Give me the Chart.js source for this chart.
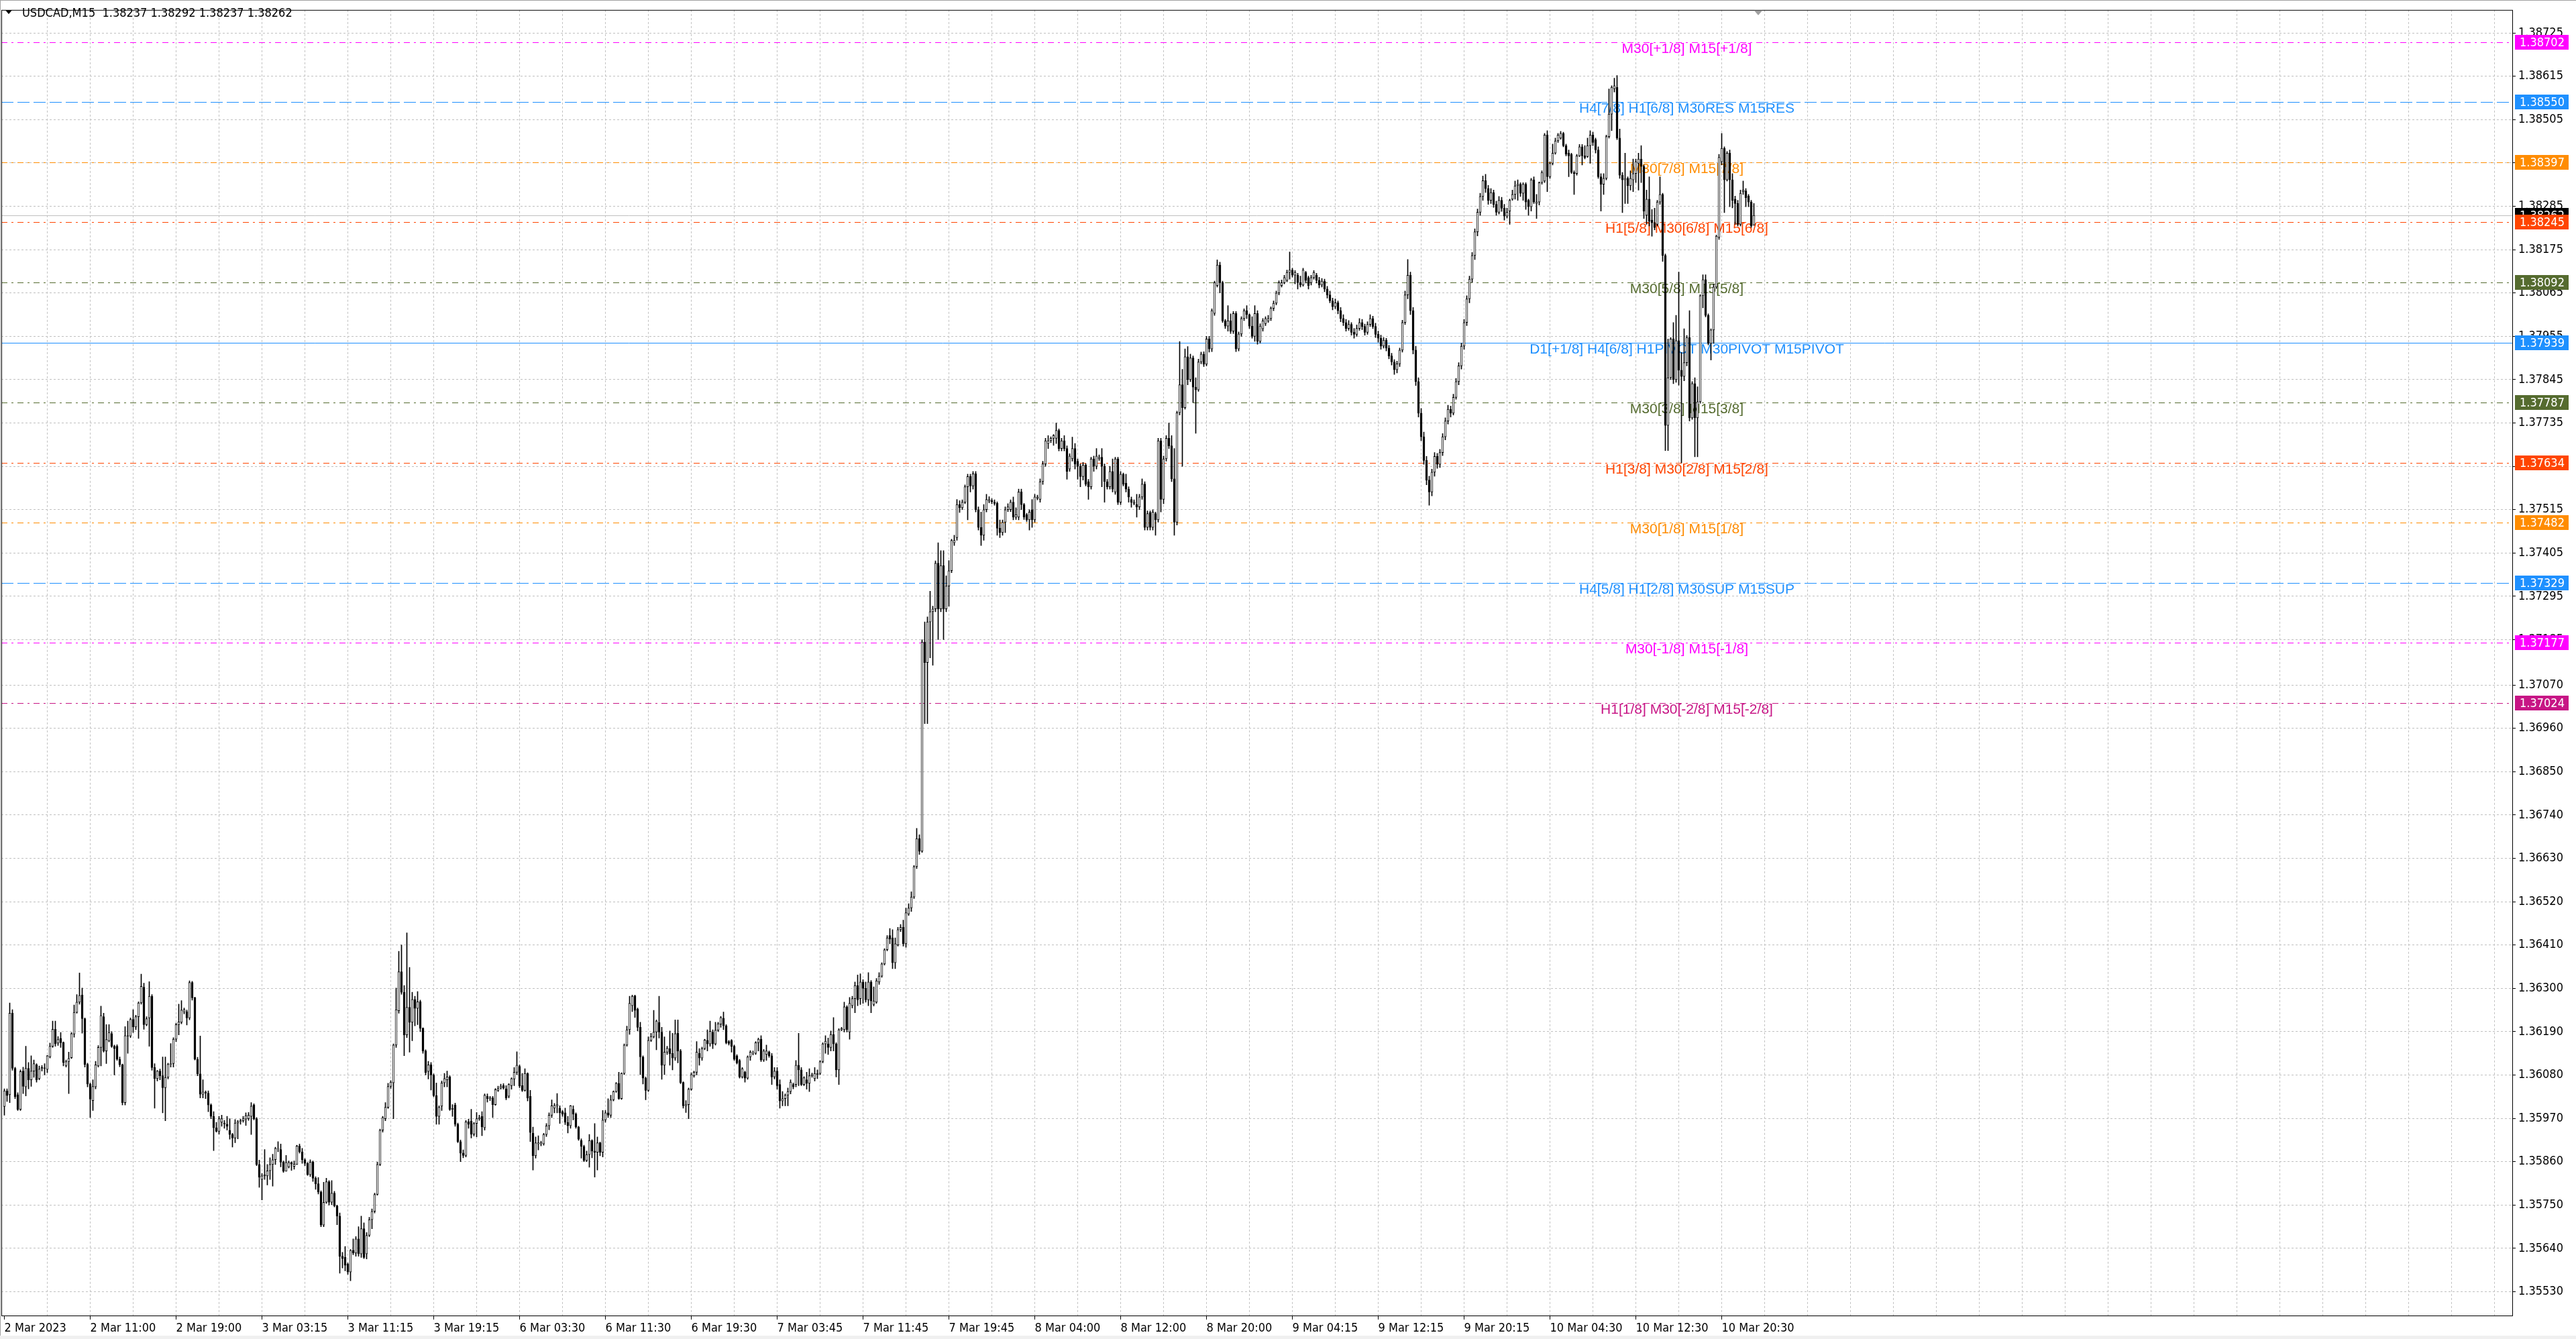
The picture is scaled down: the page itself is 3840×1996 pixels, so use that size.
<!DOCTYPE html>
<html>
<head>
<meta charset="utf-8">
<title>USDCAD,M15</title>
<script src="https://cdn.jsdelivr.net/npm/chart.js@4.4.1/dist/chart.umd.min.js"></script>
<style>
  html, body { margin: 0; padding: 0; background: #ffffff; overflow: hidden; }
  canvas { display: block; }
</style>
</head>
<body>
<canvas id="chart" width="3840" height="1996"></canvas>
<script>
// USDCAD M15 candles, prices kept in points above 1.35000 (1 point = 0.00001)
var symbolName = "USDCAD";
var timeframe = "M15";

var barOpen = [
  1000,1040,1030,1237,1097,1030,993,1090,1050,1097,
  1068,1090,1106,1071,1096,1098,1094,1126,1153,1196,
  1161,1173,1163,1104,1114,1124,1184,1239,1265,1283,
  1223,1107,1057,1015,1050,1103,1150,1228,1141,1167,
  1185,1153,1153,1120,1106,1010,1180,1179,1221,1202,
  1228,1263,1303,1208,1225,1280,1099,1071,1090,1078,
  1048,1074,1107,1109,1171,1208,1214,1240,1241,1225,
  1315,1276,1120,1083,1031,1037,1034,1004,975,946,
  937,960,958,955,940,929,920,958,962,964,
  968,969,975,1004,969,853,815,824,824,837,
  853,865,892,891,859,836,847,858,848,853,
  900,885,865,856,827,859,818,804,783,699,
  757,809,757,780,748,722,620,617,600,580,
  635,628,664,626,690,626,673,713,734,777,
  853,940,969,998,1051,1060,1156,1243,1342,1290,
  1182,1252,1214,1272,1249,1266,1199,1141,1089,1106,
  1080,1028,975,1001,1060,1068,1075,993,1004,955,
  911,882,876,961,963,930,957,969,975,946,
  1026,1020,1022,1005,1041,1047,1053,1045,1026,1053,
  1070,1087,1102,1053,1041,1084,1026,932,875,905,
  905,905,929,951,978,996,1002,996,987,984,
  960,951,993,981,948,914,899,863,878,914,
  887,884,908,884,966,984,978,1017,1038,1059,
  1020,1084,1156,1195,1256,1281,1247,1201,1126,1072,
  1041,1168,1177,1189,1213,1189,1105,1138,1147,1135,
  1123,1186,1141,1061,1002,1005,1044,1078,1087,1135,
  1123,1147,1168,1159,1189,1159,1194,1209,1224,1205,
  1165,1168,1153,1129,1117,1075,1087,1072,1126,1135,
  1135,1162,1171,1118,1132,1138,1129,1075,1090,1056,
  1014,1020,1029,1038,1056,1056,1105,1093,1056,1068,
  1059,1078,1071,1081,1084,1114,1159,1159,1150,1183,
  1159,1093,1195,1195,1253,1189,1256,1274,1307,1274,
  1316,1300,1271,1316,1259,1265,1316,1331,1362,1398,
  1434,1428,1365,1410,1449,1455,1413,1489,1504,1532,
  1609,1680,1648,2179,2127,2230,2256,2263,2379,2263,
  2373,2263,2321,2360,2431,2444,2528,2520,2534,2573,
  2599,2575,2606,2515,2470,2450,2515,2537,2538,2534,
  2531,2468,2457,2483,2515,2515,2534,2496,2496,2560,
  2528,2502,2489,2515,2489,2544,2541,2586,2631,2683,
  2690,2696,2696,2716,2670,2690,2670,2618,2644,2670,
  2638,2625,2599,2628,2586,2573,2644,2625,2644,2648,
  2625,2586,2573,2612,2560,2644,2534,2605,2582,2567,
  2541,2531,2528,2522,2547,2580,2470,2508,2470,2505,
  2489,2690,2541,2644,2696,2677,2593,2483,2761,2832,
  2774,2903,2845,2900,2826,2819,2890,2910,2884,2948,
  2923,3013,3084,3136,3091,2994,2981,2994,2968,3013,
  2923,2961,3000,3020,3010,2981,2955,3013,2942,2974,
  2987,2994,3000,3026,3039,3065,3084,3091,3097,3117,
  3123,3110,3110,3091,3085,3117,3104,3091,3104,3110,
  3097,3085,3095,3075,3060,3045,3030,3040,3020,3000,
  2990,2975,2985,2965,2960,2975,2990,2980,2965,2985,
  3000,2980,2960,2950,2930,2945,2925,2905,2890,2870,
  2885,2920,2990,3060,3110,3020,2920,2840,2760,2700,
  2640,2590,2560,2610,2650,2630,2660,2700,2740,2770,
  2760,2800,2840,2880,2930,2990,3050,3100,3160,3220,
  3270,3310,3350,3330,3300,3320,3290,3270,3300,3280,
  3260,3273,3303,3315,3337,3341,3318,3341,3300,3284,
  3352,3292,3296,3345,3349,3466,3360,3394,3420,3451,
  3458,3470,3439,3420,3417,3371,3368,3413,3436,3413,
  3411,3439,3466,3454,3428,3360,3341,3356,3462,3519,
  3583,3587,3458,3364,3352,3356,3337,3352,3368,3394,
  3405,3386,3262,3303,3250,3243,3239,3296,3315,3160,
  2729,2850,2948,2845,2944,2869,2853,2888,2952,2748,
  2835,2748,2789,3058,3099,3008,2937,2971,3080,3206,
  3398,3432,3352,3420,3352,3303,3292,3239,3322,3324,
  3311,3296,3237
];

var barHigh = [
  1045,1045,1263,1246,1100,1035,1093,1100,1153,1112,
  1129,1118,1109,1103,1104,1109,1130,1161,1217,1217,
  1178,1188,1164,1118,1138,1188,1258,1284,1339,1301,
  1225,1110,1060,1068,1115,1155,1255,1237,1208,1208,
  1190,1156,1157,1126,1108,1203,1217,1225,1246,1232,
  1266,1336,1313,1228,1317,1284,1109,1092,1095,1126,
  1126,1110,1160,1175,1212,1260,1269,1250,1245,1319,
  1318,1278,1125,1179,1068,1040,1040,1007,987,960,
  975,978,965,975,969,932,967,965,968,975,
  984,985,1010,1007,972,864,830,891,853,870,
  879,897,911,905,862,876,862,860,862,902,
  905,894,868,858,865,862,822,820,786,808,
  818,812,812,785,750,730,630,645,603,637,
  664,670,695,722,705,680,719,740,780,859,
  943,975,1010,1059,1066,1159,1301,1394,1410,1307,
  1441,1353,1290,1280,1292,1270,1200,1144,1115,1112,
  1083,1060,1002,1065,1084,1090,1078,1005,1009,958,
  915,890,965,968,993,960,985,978,987,1032,
  1032,1026,1026,1046,1052,1057,1058,1053,1058,1073,
  1099,1139,1106,1084,1096,1086,1041,948,923,926,
  912,932,957,984,1017,1008,1033,1002,990,996,
  975,1003,1002,984,950,918,902,887,929,916,
  957,923,910,990,990,1020,1029,1040,1061,1087,
  1086,1159,1204,1280,1283,1283,1250,1214,1129,1075,
  1177,1186,1244,1220,1280,1201,1177,1153,1192,1186,
  1220,1220,1145,1063,1015,1047,1086,1090,1165,1147,
  1151,1171,1195,1217,1195,1214,1214,1229,1240,1208,
  1168,1170,1156,1132,1120,1099,1090,1129,1142,1141,
  1165,1174,1180,1145,1156,1141,1135,1099,1099,1068,
  1038,1032,1047,1068,1060,1117,1186,1099,1076,1087,
  1096,1085,1099,1093,1117,1162,1180,1174,1192,1226,
  1162,1198,1201,1265,1256,1277,1280,1316,1334,1337,
  1322,1316,1340,1320,1304,1325,1340,1365,1401,1434,
  1452,1449,1428,1455,1462,1473,1504,1515,1545,1612,
  1706,1690,2185,2230,2243,2308,2270,2385,2431,2411,
  2411,2347,2386,2440,2450,2541,2538,2540,2578,2605,
  2605,2612,2612,2522,2509,2528,2554,2548,2543,2540,
  2535,2489,2489,2522,2530,2540,2547,2520,2567,2567,
  2531,2506,2515,2541,2554,2552,2593,2638,2696,2703,
  2700,2706,2735,2720,2696,2703,2677,2657,2699,2683,
  2644,2631,2635,2632,2592,2648,2651,2670,2654,2670,
  2631,2592,2625,2644,2648,2648,2612,2608,2605,2573,
  2547,2540,2554,2554,2593,2586,2512,2512,2515,2509,
  2696,2696,2651,2703,2735,2703,2670,2765,2942,2871,
  2923,2929,2910,2905,2850,2897,2915,2916,2955,2955,
  3025,3095,3149,3143,3095,2998,3033,3012,3018,3018,
  2966,3005,3025,3033,3012,3005,3033,3020,2987,3000,
  3005,3008,3030,3045,3070,3096,3098,3110,3123,3169,
  3128,3122,3115,3108,3128,3120,3108,3110,3122,3115,
  3105,3102,3100,3082,3070,3052,3050,3045,3028,3010,
  2998,2995,2990,2975,2984,3000,2998,2986,2992,3010,
  3006,2988,2968,2958,2952,2950,2932,2912,2896,2892,
  2925,2996,3070,3150,3118,3028,2930,2850,2772,2712,
  2650,2600,2618,2660,2658,2668,2708,2748,2780,2778,
  2808,2848,2888,2938,2998,3058,3108,3168,3228,3278,
  3318,3362,3366,3338,3330,3326,3298,3310,3308,3290,
  3280,3303,3326,3349,3352,3345,3345,3345,3303,3356,
  3360,3315,3347,3375,3470,3477,3398,3443,3458,3470,
  3475,3473,3443,3428,3420,3375,3417,3442,3442,3439,
  3458,3477,3473,3458,3436,3368,3368,3466,3583,3591,
  3610,3617,3481,3371,3420,3360,3375,3405,3405,3420,
  3439,3390,3326,3360,3277,3280,3300,3360,3318,3164,
  2948,2952,2990,3008,3118,2914,2974,2957,3020,2840,
  2850,2827,3061,3111,3111,3012,2974,3088,3212,3417,
  3470,3436,3424,3428,3368,3311,3300,3326,3349,3330,
  3315,3300,3292
];

var barLow = [
  978,1013,1010,1092,1020,990,990,1033,1027,1045,
  1051,1074,1062,1068,1090,1080,1086,1123,1150,1153,
  1155,1150,1103,1100,1033,1122,1176,1237,1260,1186,
  1100,1050,972,990,1045,1100,1103,1138,1109,1164,
  1150,1080,1117,1101,1004,1004,1135,1175,1188,1195,
  1173,1260,1196,1205,1153,1092,996,1065,1068,984,
  964,1070,1100,1100,1165,1182,1210,1235,1207,1220,
  1270,1118,1078,1022,1022,1020,987,969,888,935,
  930,950,945,940,917,897,908,918,955,960,
  952,965,929,966,850,795,763,815,801,815,
  798,853,885,847,833,836,844,838,841,853,
  882,856,850,825,822,810,790,778,695,695,
  754,750,751,745,700,577,590,583,574,558,
  624,620,620,617,614,613,670,690,730,775,
  850,935,964,995,1046,969,1150,1237,1285,1129,
  1175,1138,1167,1205,1208,1190,1135,1080,1070,1042,
  1025,955,955,990,1050,1050,990,975,950,908,
  860,870,872,945,920,925,923,965,926,940,
  1011,1015,972,1003,1038,1044,1044,1017,1022,1044,
  1053,1081,1048,1038,1039,1014,911,839,869,890,
  900,902,924,941,972,984,984,957,975,954,
  933,945,966,945,914,869,860,860,846,870,
  821,839,875,872,960,972,972,1014,1036,1018,
  1018,1081,1153,1183,1241,1226,1192,1081,1057,1017,
  1038,1165,1174,1144,1174,1069,1081,1132,1105,1093,
  1117,1111,1058,996,985,969,1041,1074,1080,1105,
  1117,1144,1141,1153,1147,1156,1190,1201,1195,1159,
  1156,1138,1117,1108,1072,1072,1062,1069,1117,1131,
  1132,1141,1114,1114,1117,1125,1056,1070,1044,996,
  1002,1002,1002,1032,1045,1050,1053,1053,1053,1044,
  1038,1074,1065,1071,1081,1111,1135,1132,1141,1141,
  1075,1056,1192,1189,1189,1171,1250,1238,1256,1259,
  1262,1265,1256,1238,1255,1262,1310,1328,1359,1395,
  1413,1350,1350,1407,1444,1407,1404,1485,1495,1528,
  1604,1640,1645,1972,1972,2139,2120,2256,2185,2256,
  2185,2256,2270,2355,2424,2437,2508,2515,2530,2489,
  2560,2567,2509,2463,2424,2437,2509,2532,2530,2526,
  2450,2444,2450,2457,2510,2510,2489,2490,2489,2515,
  2490,2485,2463,2470,2483,2540,2534,2579,2625,2670,
  2685,2678,2683,2664,2664,2664,2592,2612,2638,2618,
  2592,2573,2590,2575,2541,2567,2612,2618,2640,2573,
  2534,2567,2567,2560,2554,2528,2528,2575,2560,2534,
  2521,2527,2496,2515,2541,2463,2463,2463,2463,2450,
  2483,2509,2530,2638,2670,2586,2450,2476,2755,2625,
  2770,2832,2840,2787,2709,2815,2885,2878,2880,2915,
  2916,3008,3080,3065,2990,2975,2968,2962,2962,2916,
  2918,2955,2995,3000,2975,2950,2942,2935,2938,2968,
  2982,2990,2995,3020,3035,3060,3080,3088,3093,3100,
  3105,3088,3075,3080,3082,3090,3075,3085,3100,3090,
  3078,3080,3068,3052,3040,3022,3025,3012,2992,2982,
  2968,2970,2958,2950,2955,2970,2972,2958,2960,2980,
  2975,2952,2940,2922,2925,2918,2898,2882,2858,2862,
  2878,2915,2985,3050,3010,2910,2830,2750,2690,2630,
  2578,2526,2550,2600,2620,2622,2652,2692,2732,2750,
  2755,2795,2832,2872,2922,2982,3040,3092,3150,3210,
  3262,3300,3320,3290,3292,3282,3262,3265,3272,3250,
  3255,3239,3300,3303,3300,3310,3300,3277,3262,3273,
  3292,3254,3288,3341,3345,3322,3356,3390,3417,3447,
  3455,3436,3413,3360,3368,3315,3364,3411,3390,3405,
  3409,3394,3439,3420,3356,3273,3315,3352,3458,3477,
  3575,3454,3356,3269,3292,3292,3326,3322,3345,3326,
  3345,3254,3239,3235,3209,3225,3235,3290,3145,2665,
  2665,2845,2835,2838,2831,2634,2842,2880,2740,2744,
  2649,2649,2785,3027,3004,2933,2895,2937,3076,3201,
  3390,3269,3349,3284,3281,3239,3235,3235,3315,3284,
  3284,3231,3237
];

var barClose = [
  1040,1028,1237,1097,1025,993,1089,1051,1097,1068,
  1090,1109,1068,1095,1099,1097,1129,1153,1196,1159,
  1170,1162,1112,1114,1122,1185,1239,1265,1282,1223,
  1107,1057,1019,1051,1106,1150,1231,1141,1170,1188,
  1153,1147,1120,1106,1010,1180,1179,1221,1202,1228,
  1263,1305,1208,1223,1280,1099,1071,1090,1078,1048,
  1074,1107,1109,1171,1208,1215,1245,1246,1225,1315,
  1276,1120,1083,1031,1037,1034,1004,975,946,937,
  969,969,956,950,929,920,958,962,964,969,
  977,978,1001,969,853,821,824,827,837,853,
  865,894,894,859,836,858,858,854,854,900,
  885,865,856,827,859,818,804,783,699,757,
  809,757,780,748,722,620,614,597,580,635,
  628,664,626,690,617,673,713,734,777,853,
  940,972,998,1051,1062,1156,1246,1342,1290,1182,
  1252,1214,1272,1249,1266,1199,1141,1086,1106,1080,
  1028,975,998,1060,1071,1075,993,995,955,911,
  882,876,961,955,930,957,969,972,948,1029,
  1020,1022,1005,1043,1046,1052,1047,1022,1056,1071,
  1087,1105,1052,1041,1084,1022,934,875,908,908,
  908,929,951,978,1002,1003,1005,984,981,960,
  951,1002,981,948,917,899,863,878,914,887,
  884,908,884,966,984,978,1017,1038,1059,1020,
  1084,1156,1195,1262,1280,1244,1201,1126,1072,1041,
  1168,1178,1189,1217,1189,1105,1138,1148,1134,1123,
  1185,1141,1061,1002,1005,1044,1081,1087,1138,1123,
  1147,1169,1159,1191,1159,1194,1210,1226,1205,1162,
  1160,1153,1120,1111,1075,1096,1072,1126,1138,1137,
  1162,1171,1118,1141,1141,1129,1075,1090,1053,1014,
  1020,1029,1038,1062,1050,1105,1093,1056,1073,1059,
  1078,1081,1084,1084,1114,1159,1166,1150,1183,1159,
  1093,1195,1198,1253,1195,1262,1274,1307,1271,1316,
  1300,1271,1316,1268,1268,1319,1331,1362,1398,1428,
  1425,1365,1413,1449,1455,1413,1492,1504,1532,1609,
  1680,1648,2179,2127,2230,2256,2263,2379,2263,2373,
  2263,2321,2360,2437,2437,2528,2520,2534,2573,2599,
  2575,2606,2515,2470,2450,2515,2541,2541,2535,2531,
  2468,2457,2483,2515,2522,2534,2496,2502,2560,2528,
  2496,2489,2509,2489,2547,2547,2586,2631,2690,2690,
  2696,2703,2716,2670,2690,2670,2612,2651,2670,2631,
  2625,2599,2628,2580,2573,2644,2625,2651,2648,2625,
  2586,2573,2612,2567,2644,2534,2605,2580,2567,2547,
  2534,2534,2522,2547,2580,2470,2505,2470,2509,2489,
  2690,2541,2644,2696,2677,2593,2483,2761,2832,2774,
  2903,2845,2900,2826,2819,2890,2910,2884,2948,2923,
  3020,3091,3136,3091,2994,2981,2994,2968,3013,2923,
  2961,3000,3020,3010,2981,2955,3013,2942,2981,2994,
  3000,3000,3026,3039,3065,3091,3091,3104,3117,3123,
  3110,3117,3091,3085,3123,3097,3084,3104,3117,3097,
  3085,3095,3075,3060,3045,3030,3040,3020,3000,2990,
  2975,2985,2965,2960,2975,2990,2980,2965,2985,3000,
  2980,2960,2950,2930,2945,2925,2905,2890,2870,2885,
  2920,2990,3060,3110,3020,2920,2840,2760,2700,2640,
  2590,2560,2610,2650,2630,2660,2700,2740,2770,2760,
  2800,2840,2880,2930,2990,3050,3100,3160,3220,3270,
  3310,3350,3330,3300,3320,3290,3270,3300,3280,3260,
  3270,3300,3315,3337,3341,3318,3341,3296,3284,3352,
  3296,3296,3345,3371,3466,3360,3394,3420,3451,3466,
  3470,3439,3417,3413,3371,3368,3413,3436,3413,3409,
  3439,3466,3447,3428,3360,3341,3356,3462,3519,3587,
  3591,3458,3364,3352,3356,3337,3356,3368,3398,3405,
  3386,3273,3303,3247,3243,3231,3296,3315,3160,2729,
  2850,2948,2845,2944,2869,2853,2888,2952,2748,2835,
  2748,2789,3058,3099,3008,2937,2971,3080,3209,3409,
  3432,3352,3420,3352,3300,3292,3239,3318,3326,3307,
  3296,3235,3262
];

// time axis labels, one every 32 bars (8 hours)
var timeLabels = [
  "2 Mar 2023", "2 Mar 11:00", "2 Mar 19:00", "3 Mar 03:15", "3 Mar 11:15",
  "3 Mar 19:15", "6 Mar 03:30", "6 Mar 11:30", "6 Mar 19:30", "7 Mar 03:45",
  "7 Mar 11:45", "7 Mar 19:45", "8 Mar 04:00", "8 Mar 12:00", "8 Mar 20:00",
  "9 Mar 04:15", "9 Mar 12:15", "9 Mar 20:15", "10 Mar 04:30", "10 Mar 12:30",
  "10 Mar 20:30"
];

// price scale labels
var priceTicks = [
  1.35530, 1.35640, 1.35750, 1.35860, 1.35970, 1.36080, 1.36190, 1.36300,
  1.36410, 1.36520, 1.36630, 1.36740, 1.36850, 1.36960, 1.37070, 1.37185,
  1.37295, 1.37405, 1.37515, 1.37625, 1.37735, 1.37845, 1.37955, 1.38065,
  1.38175, 1.38285, 1.38395, 1.38505, 1.38615, 1.38725
];

// Murrey math levels drawn by the indicator
var levelPrices = [
  1.38702, 1.38550, 1.38397, 1.38245, 1.38092, 1.37939,
  1.37787, 1.37634, 1.37482, 1.37329, 1.37177, 1.37024
];
var levelNames = [
  "M30[+1/8] M15[+1/8]",
  "H4[7/8] H1[6/8] M30RES M15RES",
  "M30[7/8] M15[7/8]",
  "H1[5/8] M30[6/8] M15[6/8]",
  "M30[5/8] M15[5/8]",
  "D1[+1/8] H4[6/8] H1PIVOT M30PIVOT M15PIVOT",
  "M30[3/8] M15[3/8]",
  "H1[3/8] M30[2/8] M15[2/8]",
  "M30[1/8] M15[1/8]",
  "H4[5/8] H1[2/8] M30SUP M15SUP",
  "M30[-1/8] M15[-1/8]",
  "H1[1/8] M30[-2/8] M15[-2/8]"
];

if (barOpen.length !== barHigh.length || barOpen.length !== barLow.length || barOpen.length !== barClose.length) {
  throw new Error("bar arrays differ: " + [barOpen.length, barHigh.length, barLow.length, barClose.length].join(","));
}

// ---- styling ----
var DASHDOT = [9, 6, 3, 6];
var DASH = [18, 6];
var levelColors = ["#FF00FF", "#1E90FF", "#FF8C00", "#FF4500", "#556B2F", "#1E90FF",
                   "#556B2F", "#FF4500", "#FF8C00", "#1E90FF", "#FF00FF", "#C71585"];
var levelDashes = [DASHDOT, DASH, DASHDOT, DASHDOT, DASHDOT, [],
                   DASHDOT, DASHDOT, DASHDOT, DASH, DASHDOT, DASHDOT];
var GRID = "#C0C0C0";
var AXIS_FONT = '"DejaVu Sans Condensed", "DejaVu Sans", sans-serif';
var LEVEL_FONT = '21px "Liberation Sans", Arial, sans-serif';
var LABEL_BAR = 627;          // bar under the centre of the level captions
var X_MIN = -1.125, X_MAX = 934.625;
var Y_MIN = 1.354696, Y_MAX = 1.387834;

function toPrice(v) { return Math.round(135000 + v) / 100000; }

var last = barClose.length - 1;
var lastPrice = toPrice(barClose[last]);
var titleText = symbolName + "," + timeframe + "  " +
  [barOpen[last], barHigh[last], barLow[last], barClose[last]].map(function (v) { return toPrice(v).toFixed(5); }).join(" ");

var wickData = barHigh.map(function (h, i) { return { x: i, y: [toPrice(barLow[i]), toPrice(h)] }; });
var bodyData = barOpen.map(function (o, i) { return { x: i, y: [toPrice(o), toPrice(barClose[i])] }; });
var bodyFill = barOpen.map(function (o, i) { return barClose[i] >= o ? "#ffffff" : "#000000"; });

var gridBars = [];
for (var b = 0; b <= 928; b += 16) gridBars.push(b);

var mtPlugin = {
  id: "mtDecor",
  beforeDatasetsDraw: function (chart) {
    var ctx = chart.ctx, a = chart.chartArea, ys = chart.scales.y, xs = chart.scales.x;
    ctx.save();
    ctx.beginPath();
    ctx.rect(a.left, a.top, a.right - a.left, a.bottom - a.top);
    ctx.clip();
    ctx.lineWidth = 1;
    // bid line
    var yb = Math.round(ys.getPixelForValue(lastPrice)) + 0.5;
    ctx.strokeStyle = GRID;
    ctx.setLineDash([]);
    ctx.beginPath(); ctx.moveTo(a.left, yb); ctx.lineTo(a.right, yb); ctx.stroke();
    levelPrices.forEach(function (p, k) {
      var y = Math.round(ys.getPixelForValue(p)) + 0.5;
      ctx.strokeStyle = levelColors[k];
      ctx.setLineDash(levelDashes[k]);
      ctx.beginPath(); ctx.moveTo(a.left, y); ctx.lineTo(a.right, y); ctx.stroke();
    });
    ctx.setLineDash([]);
    ctx.font = LEVEL_FONT;
    ctx.textAlign = "center";
    ctx.textBaseline = "top";
    var xl = xs.getPixelForValue(LABEL_BAR);
    levelPrices.forEach(function (p, k) {
      ctx.fillStyle = levelColors[k];
      ctx.fillText(levelNames[k], xl, Math.round(ys.getPixelForValue(p)));
    });
    ctx.restore();
  },
  afterDraw: function (chart) {
    var ctx = chart.ctx, a = chart.chartArea, ys = chart.scales.y, xs = chart.scales.x;
    var W = chart.width, H = chart.height;
    ctx.save();
    // window edges
    ctx.fillStyle = "#A0A0A0";
    ctx.fillRect(0, 0, W, 1);
    ctx.fillRect(0, 0, 1, H);
    ctx.fillStyle = "#F0F0F0";
    ctx.fillRect(0, H - 5, W, 5);
    // chart frame
    ctx.strokeStyle = "#000000";
    ctx.lineWidth = 1;
    ctx.strokeRect(a.left + 0.5, a.top + 0.5, a.right - a.left, a.bottom - a.top);
    // chart shift marker
    var xs0 = Math.round(xs.getPixelForValue(last + 1.5));
    ctx.fillStyle = "#A0A0A0";
    ctx.beginPath(); ctx.moveTo(xs0 - 6, a.top + 1); ctx.lineTo(xs0 + 6, a.top + 1); ctx.lineTo(xs0, a.top + 8); ctx.fill();
    // title
    ctx.fillStyle = "#000000";
    ctx.beginPath(); ctx.moveTo(8, 15); ctx.lineTo(18, 15); ctx.lineTo(13, 21); ctx.closePath(); ctx.fill();
    ctx.font = "18px " + AXIS_FONT;
    ctx.textAlign = "left";
    ctx.textBaseline = "middle";
    ctx.fillText(titleText, 33, 20);
    // price tags on the right scale
    function tag(price, color) {
      var top = Math.round(ys.getPixelForValue(price) - 11);
      ctx.fillStyle = color;
      ctx.fillRect(a.right + 4, top, 80, 22);
      ctx.fillStyle = "#ffffff";
      ctx.fillText(price.toFixed(5), a.right + 11, top + 12);
    }
    tag(lastPrice, "#000000");
    levelPrices.forEach(function (p, k) { tag(p, levelColors[k]); });
    ctx.restore();
  }
};

new Chart(document.getElementById("chart").getContext("2d"), {
  type: "bar",
  data: {
    datasets: [
      {
        label: "wicks",
        data: wickData,
        backgroundColor: "#000000",
        borderWidth: 0,
        barThickness: 1,
        grouped: false,
        order: 2
      },
      {
        label: symbolName,
        data: bodyData,
        backgroundColor: bodyFill,
        borderColor: "#000000",
        borderWidth: 1,
        borderSkipped: false,
        barThickness: 3,
        grouped: false,
        order: 1
      }
    ]
  },
  options: {
    responsive: false,
    devicePixelRatio: 1,
    animation: false,
    layout: { padding: { left: 2, top: 3, right: 0, bottom: 0 } },
    plugins: { legend: { display: false }, tooltip: { enabled: false }, title: { display: false } },
    scales: {
      x: {
        type: "linear",
        min: X_MIN,
        max: X_MAX,
        offset: false,
        afterFit: function (s) { s.height = 35; },
        afterBuildTicks: function (s) { s.ticks = gridBars.map(function (v) { return { value: v }; }); },
        ticks: {
          autoSkip: false,
          maxRotation: 0,
          align: "start",
          padding: 3,
          color: "#000000",
          font: { family: AXIS_FONT, size: 18 },
          callback: function (v) { return v % 32 === 0 ? (timeLabels[v / 32] || "") : ""; }
        },
        grid: {
          offset: false,
          lineWidth: 1,
          tickLength: 6,
          color: function (c) { return c.tick && c.tick.value === 0 ? "rgba(0,0,0,0)" : GRID; },
          tickColor: function (c) {
            return c.tick && c.tick.value % 32 === 0 && c.tick.value / 32 < timeLabels.length ? "#000000" : "rgba(0,0,0,0)";
          }
        },
        border: { display: false, dash: [3, 3] }
      },
      y: {
        position: "right",
        min: Y_MIN,
        max: Y_MAX,
        afterFit: function (s) { s.width = 95; },
        afterBuildTicks: function (s) { s.ticks = priceTicks.map(function (v) { return { value: v }; }); },
        ticks: {
          autoSkip: false,
          padding: 4,
          color: "#000000",
          font: { family: AXIS_FONT, size: 18 },
          callback: function (v) { return Number(v).toFixed(5); }
        },
        grid: { lineWidth: 1, tickLength: 5, color: GRID, tickColor: "#000000" },
        border: { display: false, dash: [3, 3] }
      }
    }
  },
  plugins: [mtPlugin]
});
</script>
</body>
</html>
